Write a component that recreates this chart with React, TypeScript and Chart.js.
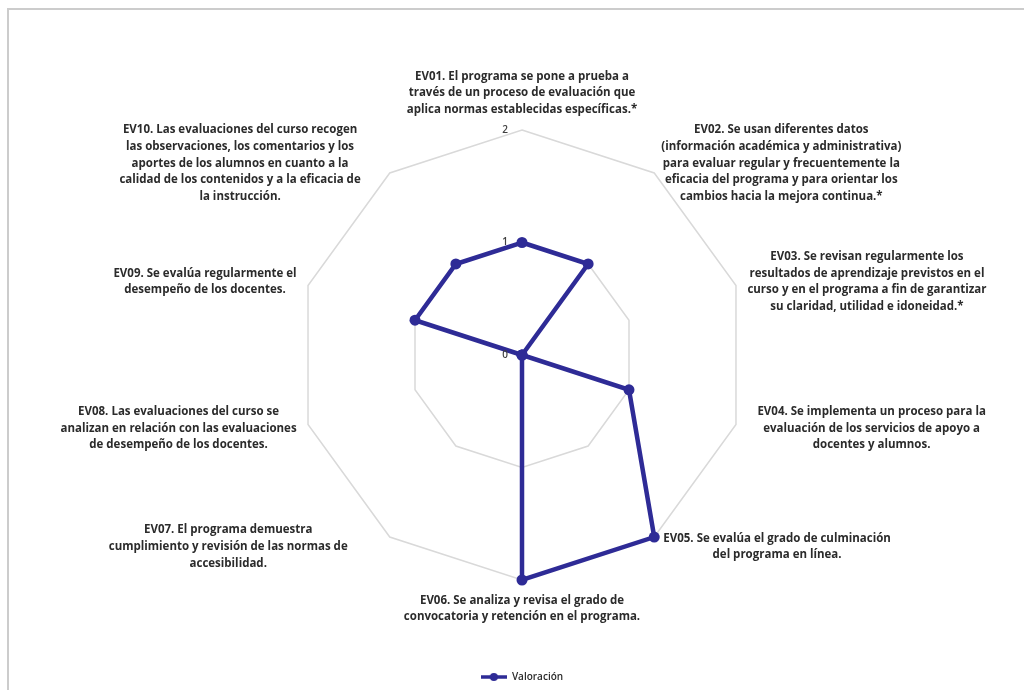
import { useEffect, useRef } from 'react';
import { Chart, registerables } from 'chart.js';

Chart.register(...registerables);

// ---- data ----
const categoryLines: string[][] = [
  ['EV01. El programa se pone a prueba a', 'través de un proceso de evaluación que', 'aplica normas establecidas específicas.*'],
  ['EV02. Se usan diferentes datos', '(información académica y administrativa)', 'para evaluar regular y frecuentemente la', 'eficacia del programa y para orientar los', 'cambios hacia la mejora continua.*'],
  ['EV03. Se revisan regularmente los', 'resultados de aprendizaje previstos en el', 'curso y en el programa a fin de garantizar', 'su claridad, utilidad e idoneidad.*'],
  ['EV04. Se implementa un proceso para la', 'evaluación de los servicios de apoyo a', 'docentes y alumnos.'],
  ['EV05. Se evalúa el grado de culminación', 'del programa en línea.'],
  ['EV06. Se analiza y revisa el grado de', 'convocatoria y retención en el programa.'],
  ['EV07. El programa demuestra', 'cumplimiento y revisión de las normas de', 'accesibilidad.'],
  ['EV08. Las evaluaciones del curso se', 'analizan en relación con las evaluaciones', 'de desempeño de los docentes.'],
  ['EV09. Se evalúa regularmente el', 'desempeño de los docentes.'],
  ['EV10. Las evaluaciones del curso recogen', 'las observaciones, los comentarios y los', 'aportes de los alumnos en cuanto a la', 'calidad de los contenidos y a la eficacia de', 'la instrucción.'],
];
const categories = categoryLines.map((l) => l.join(' '));
const seriesName = 'Valoración';
const valoracion = [1, 1, 0, 1, 2, 2, 0, 0, 1, 1];
const tickValues = [0, 1, 2];

// ---- styles ----
const LINE_COLOR = '#2e2b96';
const LABEL_FONT = '700 11.5px "Open Sans"';
const LABEL_LH = 16.6;
// small horizontal nudges of the label blocks (px), to mimic the original layout
const LABEL_NUDGE_X = [0, 0, 0, 10, 2, 0, -35, 0, 0, -22];

const labelPlugin = {
  id: 'excelLabels',
  afterDraw(chart: any) {
    const scale = chart.scales.r;
    const ctx = chart.ctx as CanvasRenderingContext2D;
    ctx.save();
    ctx.font = LABEL_FONT;
    ctx.fillStyle = '#2b2b2b';
    ctx.textBaseline = 'middle';
    ctx.textAlign = 'center';
    categoryLines.forEach((lines, i) => {
      const p = scale.getPointPosition(i, scale.drawingArea + 12);
      const w = Math.max(...lines.map((t) => ctx.measureText(t).width));
      const h = lines.length * LABEL_LH;
      const dx = p.x - scale.xCenter;
      let cx: number;
      let top: number;
      if (Math.abs(dx) < 4) {
        cx = p.x;
        top = p.y < scale.yCenter ? p.y - h : p.y;
      } else {
        cx = dx > 0 ? p.x + w / 2 : p.x - w / 2;
        top = p.y - h / 2;
      }
      cx += LABEL_NUDGE_X[i];
      lines.forEach((t, j) => ctx.fillText(t, cx, top + LABEL_LH * (j + 0.5)));
    });
    ctx.font = '600 10px "Open Sans"';
    ctx.fillStyle = '#404040';
    ctx.textAlign = 'right';
    tickValues.forEach((v) => {
      const d = scale.getDistanceFromCenterForValue(v);
      ctx.fillText(String(v), scale.xCenter - 14, scale.yCenter - d);
    });
    ctx.restore();
  },
};

export default function App() {
  const ref = useRef<HTMLCanvasElement | null>(null);
  useEffect(() => {
    if (!ref.current) return;
    const img = document.createElement('canvas');
    img.width = 26;
    img.height = 10;
    const c = img.getContext('2d')!;
    c.strokeStyle = LINE_COLOR;
    c.lineWidth = 3.5;
    c.beginPath();
    c.moveTo(0, 5);
    c.lineTo(26, 5);
    c.stroke();
    c.fillStyle = LINE_COLOR;
    c.beginPath();
    c.arc(13, 5, 4, 0, Math.PI * 2);
    c.fill();

    const chart = new Chart(ref.current, {
      type: 'radar',
      data: {
        labels: categories,
        datasets: [
          {
            label: seriesName,
            data: valoracion,
            borderColor: LINE_COLOR,
            backgroundColor: 'rgba(0,0,0,0)',
            borderWidth: 4.5,
            pointRadius: 5.5,
            pointBackgroundColor: LINE_COLOR,
            pointBorderColor: LINE_COLOR,
            pointBorderWidth: 0,
            fill: false,
            tension: 0,
          },
        ],
      },
      options: {
        animation: false,
        responsive: true,
        maintainAspectRatio: false,
        layout: { padding: { top: 120, bottom: 18, left: 11, right: 0 } },
        plugins: {
          tooltip: { enabled: false },
          legend: {
            position: 'bottom',
            labels: {
              usePointStyle: true,
              pointStyle: img as any,
              pointStyleWidth: 26,
              boxHeight: 10,
              padding: 92,
              color: '#2b2b2b',
              font: { family: '"Open Sans"', size: 10, weight: 600 as any },
            },
          },
        },
        scales: {
          r: {
            min: 0,
            max: 2,
            beginAtZero: true,
            ticks: { display: false, stepSize: 1 },
            pointLabels: { display: false },
            angleLines: { display: false },
            grid: { color: '#d9d9d9', lineWidth: 1.5 },
          },
        },
      },
      plugins: [labelPlugin],
    });
    return () => chart.destroy();
  }, []);

  return (
    <div
      style={{
        position: 'fixed',
        left: 7,
        top: 8,
        width: 1017,
        height: 682,
        borderTop: '2px solid #cccccc',
        borderLeft: '2px solid #cccccc',
        boxSizing: 'border-box',
        overflow: 'hidden',
        background: '#ffffff',
      }}
    >
      <div style={{ position: 'absolute', left: 0, top: 0, width: 1015, height: 700 }}>
        <canvas ref={ref} />
      </div>
    </div>
  );
}
